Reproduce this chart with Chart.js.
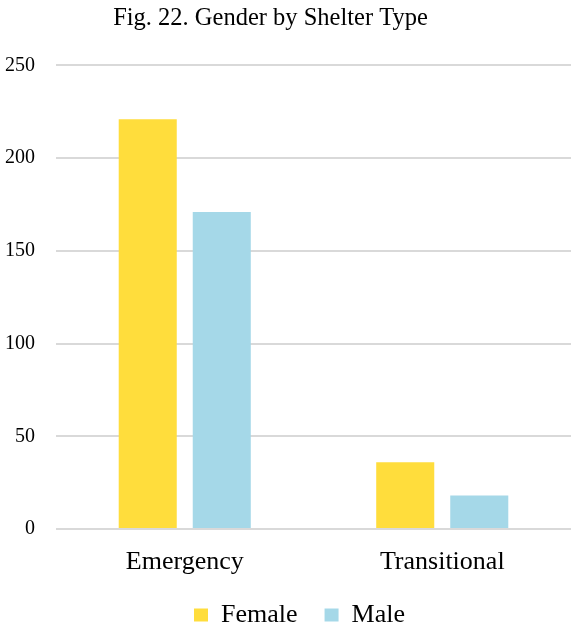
<!DOCTYPE html>
<html>
<head>
<meta charset="utf-8">
<script src="https://cdn.jsdelivr.net/npm/chart.js@4/dist/chart.umd.min.js"></script>
<style>
html,body{margin:0;padding:0;background:#fff;}
#wrap{width:571px;height:627px;}
</style>
</head>
<body>
<div id="wrap"><canvas id="c" width="571" height="627"></canvas></div>
<script>
const categories = ["Emergency", "Transitional"];
const femaleValues = [221, 36];
const maleValues = [171, 18];
const yTicks = [0, 50, 100, 150, 200, 250];
const titleText = "Fig. 22. Gender by Shelter Type";

const serif = "'Liberation Serif', 'Times New Roman', serif";

// shift title / legend to match the reference's placement
const shiftPlugin = {
  id: 'shiftBoxes',
  beforeDraw(chart) {
    const t = chart.titleBlock;
    if (t && !t._shifted) { t.left -= 15; t.right -= 15; t._shifted = true; }
    const l = chart.legend;
    if (l && !l._shifted) { l.left += 14; l.right += 14; l.top -= 1; l.bottom -= 1; l._shifted = true; }
  }
};

new Chart(document.getElementById('c'), {
  type: 'bar',
  data: {
    labels: categories,
    datasets: [
      { label: 'Female', data: femaleValues, backgroundColor: '#FFDD3C', borderWidth: 0 },
      { label: 'Male', data: maleValues, backgroundColor: '#A5D8E8', borderWidth: 0 }
    ]
  },
  plugins: [shiftPlugin],
  options: {
    responsive: false,
    animation: false,
    devicePixelRatio: 1,
    layout: { padding: { left: 0, right: 0, top: 0, bottom: -12 } },
    datasets: { bar: { categoryPercentage: 0.575, barPercentage: 0.784 } },
    plugins: {
      title: {
        display: true,
        text: titleText,
        color: '#000',
        font: { family: serif, size: 24.5, weight: 'normal' },
        padding: { top: 4, bottom: 32 }
      },
      legend: {
        position: 'bottom',
        labels: {
          color: '#000',
          font: { family: serif, size: 26 },
          boxWidth: 14,
          boxHeight: 13,
          padding: 27
        }
      },
      tooltip: { enabled: false }
    },
    scales: {
      x: {
        afterFit: (s) => { s.height = 47; },
        grid: { display: false, drawTicks: false },
        border: { display: false },
        ticks: { color: '#000', font: { family: serif, size: 26 }, padding: 18 }
      },
      y: {
        min: 0, max: 250,
        afterBuildTicks: (s) => { s.ticks = yTicks.map(v => ({ value: v })); },
        afterFit: (s) => { s.width = 56; },
        grid: { color: '#D9D9D9', lineWidth: 2, drawTicks: false },
        border: { display: false },
        ticks: { color: '#000', font: { family: serif, size: 20 }, padding: 21 }
      }
    }
  }
});
</script>
</body>
</html>
